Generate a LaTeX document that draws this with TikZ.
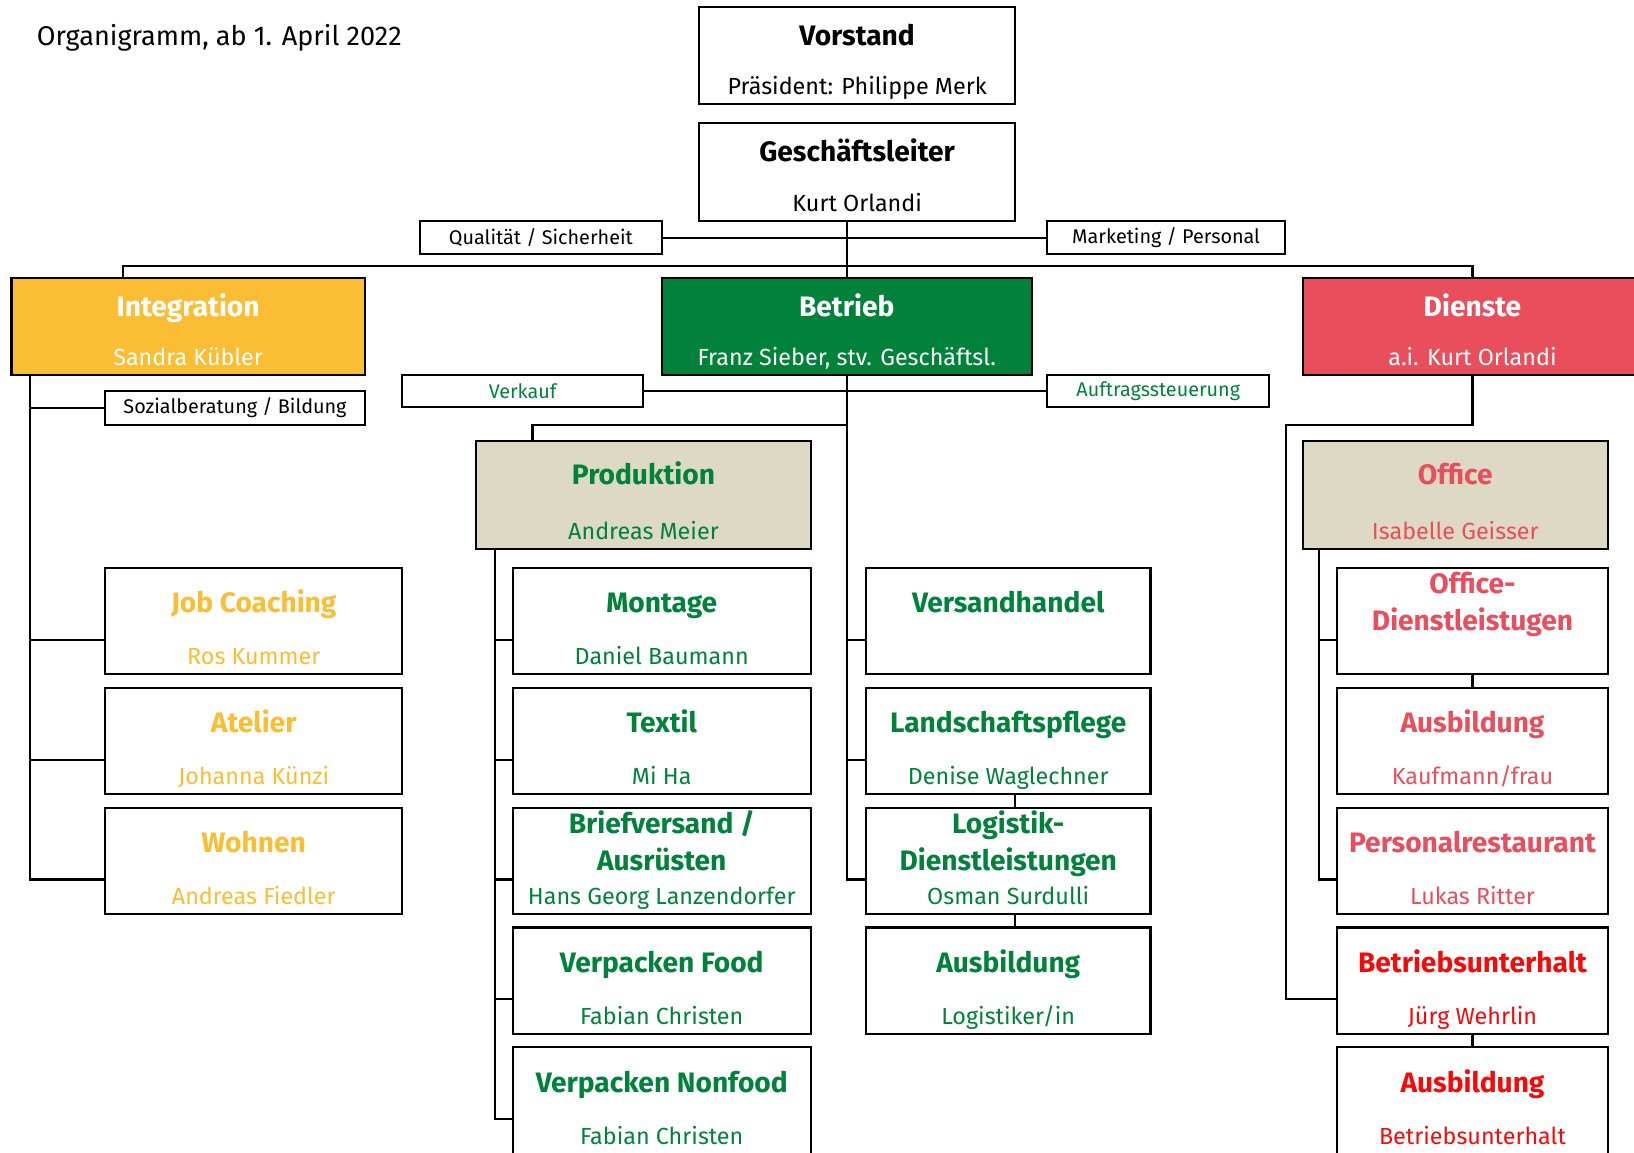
\documentclass[tikz,border=0pt]{standalone}
\usepackage{fontspec}
\setmainfont{Fira Sans}
\usepackage{tikz}
\usepackage{xcolor}
\usetikzlibrary{positioning}
\definecolor{oggreen}{RGB}{0, 130, 58}
\definecolor{ogorange}{RGB}{250, 189, 51}
\definecolor{ogrose}{RGB}{232, 78, 91}
\definecolor{ogred}{RGB}{245, 10, 10}
\definecolor{ogbeige}{RGB}{221, 217, 196}
\tikzset{
    orgbox/.style={draw=black, line width=1pt, inner sep=0pt, text height=10pt, font=\fontsize{13.5}{15}\selectfont\bfseries},
    topbox/.style={orgbox, minimum width=151.5pt, minimum height=46.5pt, text depth=20pt},
    headbox/.style={orgbox, minimum height=46.5pt, text depth=19.5pt, text=white},
    leadbox/.style={orgbox, minimum height=52pt, text depth=20pt, fill=ogbeige},
    unitbox/.style={orgbox, minimum height=51pt, text depth=18pt},
    twobox/.style={orgbox, minimum height=51pt, text height=27.5pt, text depth=18.5pt, align=center},
    tagbox/.style={draw=black, line width=1pt, inner sep=0pt, minimum height=16pt, font=\fontsize{9.5}{11}\selectfont},
    person/.style={draw=none, fill=none, anchor=base, yshift=5pt, inner sep=0pt, font=\fontsize{11.2}{13}\selectfont\mdseries, text=#1},
    intcol/.style={minimum width=142.5pt, text=ogorange},
    prodcol/.style={minimum width=143pt, text=oggreen},
    verscol/.style={minimum width=136.5pt, text=oggreen},
    offcol/.style={minimum width=130pt, text=ogrose},
    link/.style={draw=black, line width=1pt}
}
\begin{document}
\begin{tikzpicture}[x=0.5pt, y=-0.5pt]
\useasboundingbox (0,0) rectangle (1568,1105.5);
\node[anchor=west, inner sep=0pt, font=\fontsize{13}{15}\selectfont] (title) at (35,36) {Organigramm, ab 1. April 2022};

% Leitung
\node[topbox, label={[person=black]south:{Präsident: Philippe Merk}}] (vorstand) at (822.5,53.5) {Vorstand};
\node[topbox, minimum height=47pt, label={[person=black]south:Kurt Orlandi}] (gl) at (822.5,165) {Geschäftsleiter};
\node[tagbox, minimum width=116pt] (quality) at (519,228) {Qualität / Sicherheit};
\node[tagbox, minimum width=114pt] (marketing) at (1119,228) {Marketing / Personal};

% Bereiche
\node[headbox, fill=ogorange, minimum width=169.5pt, label={[person=white]south:Sandra Kübler}] (integration) at (180.5,313.5) {Integration};
\node[headbox, fill=oggreen, minimum width=177.5pt, label={[person=white]south:{Franz Sieber, stv. Geschäftsl.}}] (betrieb) at (812.5,313.5) {Betrieb};
\node[headbox, fill=ogrose, minimum width=163pt, label={[person=white]south:a.i. Kurt Orlandi}] (dienste) at (1413,313.5) {Dienste};
\node[tagbox, minimum width=115.5pt, minimum height=15.5pt, text=oggreen] (verkauf) at (501.5,375.5) {Verkauf};
\node[tagbox, minimum width=106.5pt, minimum height=15.5pt, text=oggreen] (auftrag) at (1111.5,375.5) {Auftragssteuerung};
\node[tagbox, minimum width=124.5pt, minimum height=16.5pt] (sozial) at (225.5,391.5) {Sozialberatung / Bildung};
\node[leadbox, minimum width=160.5pt, text=oggreen, label={[person=oggreen]south:Andreas Meier}] (produktion) at (617.5,475) {Produktion};
\node[leadbox, minimum width=146.5pt, text=ogrose, label={[person=ogrose]south:Isabelle Geisser}] (office) at (1396.5,475) {Office};

% Integration
\node[unitbox, intcol, label={[person=ogorange]south:Ros Kummer}] (jobcoach) at (243.5,596) {Job Coaching};
\node[unitbox, intcol, label={[person=ogorange]south:Johanna Künzi}, below=5.5pt of jobcoach] (atelier) {Atelier};
\node[unitbox, intcol, label={[person=ogorange]south:Andreas Fiedler}, below=5.5pt of atelier] (wohnen) {Wohnen};

% Produktion
\node[unitbox, prodcol, label={[person=oggreen]south:Daniel Baumann}] (montage) at (635,596) {Montage};
\node[unitbox, prodcol, label={[person=oggreen]south:Mi Ha}, below=5.5pt of montage] (textil) {Textil};
\node[twobox, prodcol, label={[person=oggreen]south:Hans Georg Lanzendorfer}, below=5.5pt of textil] (brief) {Briefversand /\\[2.5pt]Ausrüsten};
\node[unitbox, prodcol, label={[person=oggreen]south:Fabian Christen}, below=5.5pt of brief] (vfood) {Verpacken Food};
\node[unitbox, prodcol, label={[person=oggreen]south:Fabian Christen}, below=5.5pt of vfood] (vnonfood) {Verpacken Nonfood};

% Betrieb direkt
\node[unitbox, verscol] (versand) at (967.5,596) {Versandhandel};
\node[unitbox, verscol, label={[person=oggreen]south:Denise Waglechner}, below=5.5pt of versand] (landschaft) {Landschaftspflege};
\node[twobox, verscol, label={[person=oggreen]south:Osman Surdulli}, below=5.5pt of landschaft] (logistik) {Logistik-\\[2.5pt]Dienstleistungen};
\node[unitbox, verscol, label={[person=oggreen]south:Logistiker/in}, below=5.5pt of logistik] (auslog) {Ausbildung};

% Dienste
\node[twobox, offcol] (officedl) at (1413,596) {Office-\\[2.5pt]Dienstleistugen};
\node[unitbox, offcol, label={[person=ogrose]south:Kaufmann/frau}, below=5.5pt of officedl] (auskfm) {Ausbildung};
\node[unitbox, offcol, label={[person=ogrose]south:Lukas Ritter}, below=5.5pt of auskfm] (personal) {Personalrestaurant};
\node[unitbox, offcol, text=ogred, label={[person=ogred]south:Jürg Wehrlin}, below=5.5pt of personal] (unterhalt) {Betriebsunterhalt};
\node[unitbox, offcol, text=ogred, label={[person=ogred]south:Betriebsunterhalt}, below=5.5pt of unterhalt] (ausunt) {Ausbildung};

% Verbindungen oben
\coordinate (bus) at (812.5,255);
\draw[link] (betrieb.north) -- (betrieb.north |- gl.south);
\draw[link] (quality.east) -- (marketing.west);
\draw[link] ([xshift=-31.25pt]integration.north) |- (bus) -| (dienste.north);
\draw[link] (verkauf.east) -- (auftrag.west);

% Integration
\coordinate (ispine) at ([xshift=9.5pt]integration.south west);
\draw[link] (sozial.west) -| (ispine);
\draw[link] ([yshift=-9pt]jobcoach.west) -| (ispine);
\draw[link] ([yshift=-9pt]atelier.west) -| (ispine);
\draw[link] ([yshift=-9pt]wohnen.west) -| (ispine);

% Betrieb
\coordinate (bsplit) at (812.5,408);
\draw[link] ([xshift=-53.25pt]produktion.north) |- (bsplit);
\draw[link] ([yshift=-9pt]versand.west) -| (betrieb.south);
\draw[link] ([yshift=-9pt]landschaft.west) -| (betrieb.south);
\draw[link] ([yshift=-9pt]logistik.west) -| (betrieb.south);
\draw[link] ([xshift=3.25pt]landschaft.south) -- ([xshift=3.25pt]logistik.north);
\draw[link] ([xshift=3.25pt]logistik.south) -- ([xshift=3.25pt]auslog.north);
\coordinate (pspine) at ([xshift=9.5pt]produktion.south west);
\draw[link] ([yshift=-9pt]montage.west) -| (pspine);
\draw[link] ([yshift=-9pt]textil.west) -| (pspine);
\draw[link] ([yshift=-9pt]brief.west) -| (pspine);
\draw[link] ([yshift=-9pt]vfood.west) -| (pspine);
\draw[link] ([yshift=-9pt]vnonfood.west) -| (pspine);

% Dienste
\coordinate (dsplit) at (1234,408);
\draw[link] (dienste.south) |- (dsplit) |- ([yshift=-9pt]unterhalt.west);
\coordinate (ospine) at ([xshift=8.5pt]office.south west);
\draw[link] ([yshift=-9pt]officedl.west) -| (ospine);
\draw[link] ([yshift=-9pt]personal.west) -| (ospine);
\draw[link] (officedl.south) -- (auskfm.north);
\draw[link] (unterhalt.south) -- (ausunt.north);
\end{tikzpicture}
\end{document}
